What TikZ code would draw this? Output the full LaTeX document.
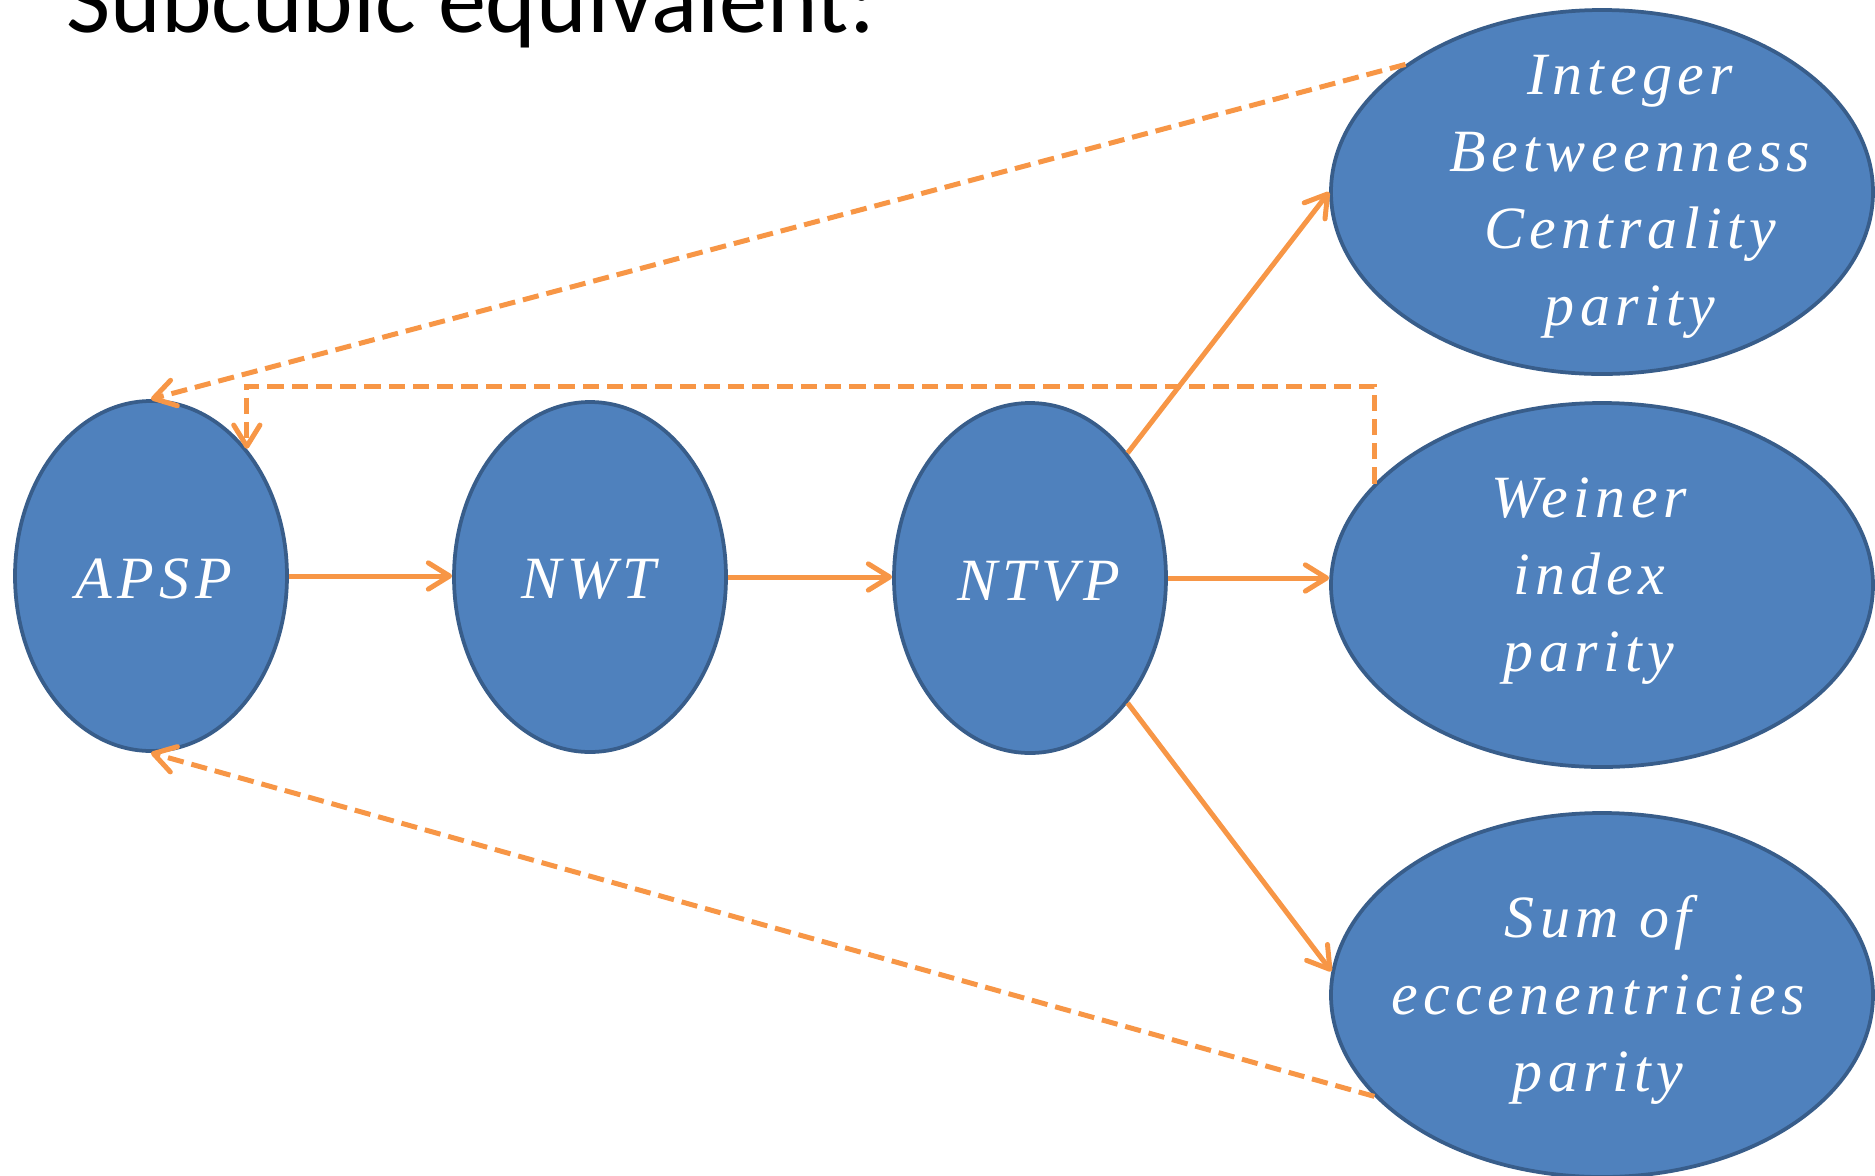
\documentclass[tikz,border=0pt]{standalone}
\usepackage{fontspec}
\setmainfont{Liberation Serif}
\newfontfamily\titlefont{Carlito}
\newfontfamily\labelfont[LetterSpace=9]{Liberation Serif}
\usetikzlibrary{shapes.geometric,arrows.meta,calc}

\definecolor{blobfill}{HTML}{4F81BD}
\definecolor{blobline}{HTML}{385D8A}
\definecolor{flowc}{HTML}{F79646}

\begin{document}
\begin{tikzpicture}[x=0.4pt, y=-0.4pt,
  blob/.style={ellipse, draw=blobline, fill=blobfill, line width=1.5pt, inner sep=0pt},
  smallblob/.style={blob, minimum width=108.8pt, minimum height=140pt},
  bigblob/.style={blob, minimum width=216.8pt, minimum height=145.6pt},
  lbl/.style={text=white, font=\labelfont\itshape\fontsize{24}{30.8}\selectfont,
              align=center, inner sep=0pt},
  flow/.style={draw=flowc, line width=2pt,
               -{Straight Barb[round,length=8.5pt,width=10.5pt]}},
  back/.style={flow, dash pattern=on 6.5pt off 3.2pt},
]
\useasboundingbox (0,0) rectangle (1875,1175);

% heading, partly above the page edge
\node[anchor=base west, inner sep=0pt, font=\titlefont\fontsize{38.5}{46}\selectfont]
  (title) at (66,32) {Subcubic equivalent:};

% problems
\node[smallblob] (apsp) at (151,576) {};
\node[smallblob] (nwt)  at (590,577) {};
\node[smallblob] (ntvp) at (1030,578) {};
\node[bigblob]   (ibc)  at (1602,192) {};
\node[bigblob]   (wip)  at (1602,585) {};
\node[bigblob]   (soe)  at (1602,995) {};

% labels
\node[lbl, anchor=base] (apsp-t) at (154,598) {APSP};
\node[lbl, anchor=base] (nwt-t)  at (589,598) {NWT};
\node[lbl, anchor=base] (ntvp-t) at (1039,600) {NTVP};
\node[lbl] (ibc-t) at (1630,197) {Integer\\Betweenness\\Centrality\\parity};
\node[lbl] (wip-t) at (1589,581) {Weiner\\index\\parity};
\node[lbl] (soe-t) at (1598,1000) {Sum of\\eccenentricies\\parity};

% reductions
\draw[flow] (apsp.east) -- (apsp.east -| nwt.west);
\draw[flow] (nwt.east) -- (nwt.east -| ntvp.west);
\draw[flow] (ntvp.east) -- (ntvp.east -| wip.west);
\draw[flow] (ntvp.52) -- (ibc.west);
\draw[flow] (ntvp.-52) -- (soe.175);

% reductions back to APSP
\coordinate (rail) at (0,386);
\draw[back] (ibc.147) -- (apsp.north);
\draw[back] (wip.156) |- (apsp.53 |- rail) -- (apsp.53);
\draw[back] (soe.204) -- (apsp.south);
\end{tikzpicture}
\end{document}
